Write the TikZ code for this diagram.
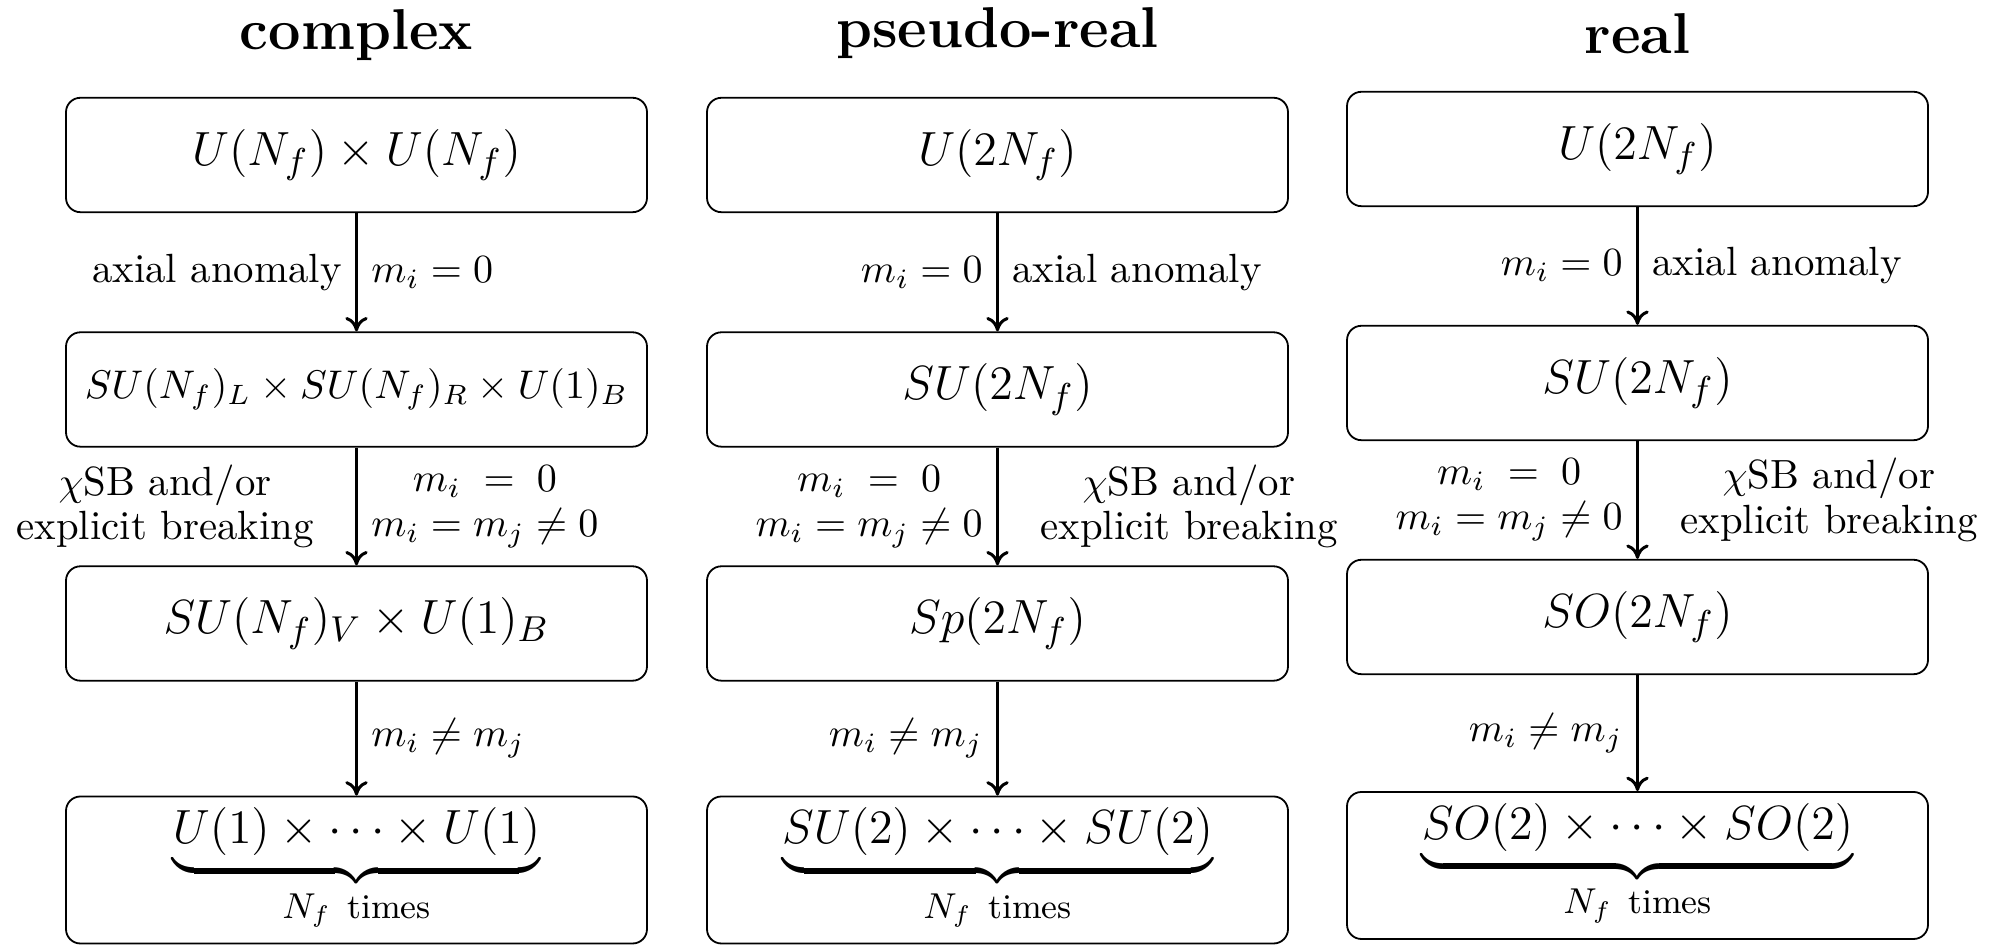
\documentclass[tikz,border=0pt]{standalone}
\usepackage{amsmath}
\usetikzlibrary{arrows.meta}
\begin{document}
\begin{tikzpicture}[x=0.25pt,y=-0.25pt,
  grp/.style={draw,line width=0.45pt,rounded corners=3.6pt,minimum width=145.25pt,minimum height=28.6pt,inner sep=0pt,font=\fontsize{12.4}{15}\selectfont},
  grps/.style={grp,font=\fontsize{10.3}{13}\selectfont},
  grpb/.style={grp,minimum height=36.75pt},
  ttl/.style={font=\Large\bfseries,anchor=base},
  arr/.style={line width=0.75pt,-{To[length=3.6pt,width=5.6pt]}},
  txtl/.style={left=7pt,align=center},
  txtr/.style={right=7pt,align=center},
  lab/.style={font=\fontsize{10.2}{11.2}\selectfont}]
\useasboundingbox (0,0) rectangle (1993,948);
% titles
\node[ttl] (t1) at (356.5,50) {complex};
\node[ttl] (t2) at (997.5,48) {pseudo-real};
\node[ttl] (t3) at (1637.5,54) {real};
% column 1
\node[grp] (a1) at (356.5,155) {$U(N_f)\times U(N_f)$};
\node[grps] (a2) at (356.5,389.5) {$SU(N_f)_L\times SU(N_f)_R\times U(1)_B$};
\node[grp] (a3) at (356.5,623.5) {$SU(N_f)_V\times U(1)_B$};
\node[grpb] (a4) at (356.5,870) {$\underbrace{U(1)\times\cdots\times U(1)}_{N_f\ \text{times}}$};
% column 2
\node[grp] (b1) at (997.5,155) {$U(2N_f)$};
\node[grp] (b2) at (997.5,389.5) {$SU(2N_f)$};
\node[grp] (b3) at (997.5,623.5) {$Sp(2N_f)$};
\node[grpb] (b4) at (997.5,870) {$\underbrace{SU(2)\times\cdots\times SU(2)}_{N_f\ \text{times}}$};
% column 3
\node[grp] (c1) at (1637.5,149) {$U(2N_f)$};
\node[grp] (c2) at (1637.5,383) {$SU(2N_f)$};
\node[grp] (c3) at (1637.5,617) {$SO(2N_f)$};
\node[grpb] (c4) at (1637.5,865.5) {$\underbrace{SO(2)\times\cdots\times SO(2)}_{N_f\ \text{times}}$};
% arrows column 1
\draw[arr] (a1) -- node[lab,left]{axial anomaly} node[lab,right]{$m_i=0$} (a2);
\draw[arr] (a2) -- node[lab,txtl]{$\chi$SB and/or\\explicit breaking} node[lab,right,align=center]{$m_i\;=\;0$\\$m_i=m_j\neq0$} (a3);
\draw[arr] (a3) -- node[lab,right]{$m_i\neq m_j$} (a4);
% arrows column 2
\draw[arr] (b1) -- node[lab,left]{$m_i=0$} node[lab,right]{axial anomaly} (b2);
\draw[arr] (b2) -- node[lab,left,align=center]{$m_i\;=\;0$\\$m_i=m_j\neq0$} node[lab,txtr]{$\chi$SB and/or\\explicit breaking} (b3);
\draw[arr] (b3) -- node[lab,left]{$m_i\neq m_j$} (b4);
% arrows column 3
\draw[arr] (c1) -- node[lab,left]{$m_i=0$} node[lab,right]{axial anomaly} (c2);
\draw[arr] (c2) -- node[lab,left,align=center]{$m_i\;=\;0$\\$m_i=m_j\neq0$} node[lab,txtr]{$\chi$SB and/or\\explicit breaking} (c3);
\draw[arr] (c3) -- node[lab,left]{$m_i\neq m_j$} (c4);
\end{tikzpicture}
\end{document}
